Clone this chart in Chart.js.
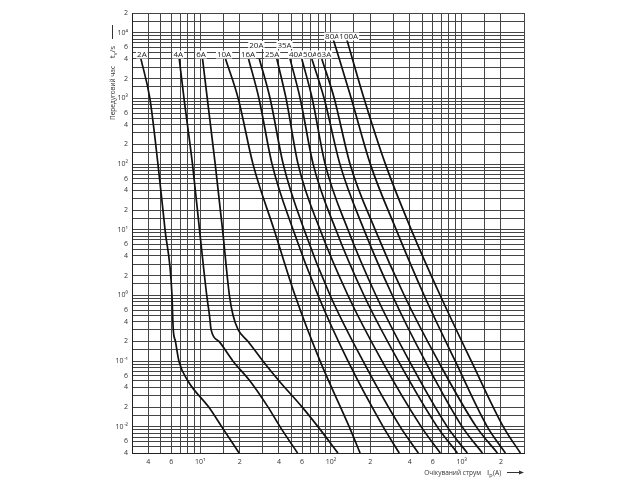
<!DOCTYPE html>
<html>
<head>
<meta charset="utf-8">
<script src="https://cdn.jsdelivr.net/npm/chart.js@4"></script>
<style>
  html, body { margin: 0; padding: 0; background: #fff; }
</style>
</head>
<body>
<canvas id="chart" width="640" height="480"></canvas>
<script>
// fuse ratings, one curve each
const ratings = ['2A', '4A', '6A', '10A', '16A', '20A', '25A', '35A', '40A', '50A', '63A', '80A', '100A'];

// pre-arcing time levels (s) the currents were read at
const timesSteep = [4000, 1000, 100, 10, 1, 0.5, 0.3, 0.2, 0.1, 0.05, 0.02, 0.01, 0.004];
const timesMain = [4000, 1000, 100, 10, 1, 0.1, 0.01, 0.004];
const timesTall = [8000, 1000, 100, 10, 1, 0.1, 0.01, 0.004];

// prospective current (A) at those times
const current2A = [3.51, 4.11, 4.74, 5.37, 6.07, 6.14, 6.21, 6.45, 6.86, 8.04, 11.6, 14.6, 19.8];
const current4A = [6.90, 7.50, 8.71, 9.86, 11.2, 11.75, 12.1, 13.9, 17.8, 24.0, 33.0, 40.8, 55.5];
const current6A = [10.4, 11.3, 13.0, 14.8, 16.7, 17.8, 19.5, 23.2, 30.2, 40.1, 60.2, 79.7, 113];
const current10A = [15.6, 19.5, 25.3, 36.7, 53.1, 82.6, 138, 167];
const current16A = [23.4, 28.1, 35.4, 51.3, 79.7, 135, 251, 333];
const current20A = [28.3, 34.2, 43.1, 62.3, 98.6, 176, 339, 466];
const current25A = [38.5, 45.3, 56.0, 82.6, 135, 246, 491, 686];
const current35A = [48.6, 58.1, 73.0, 109, 179, 328, 651, 927];
const current40A = [59.8, 71.8, 90.2, 135, 221, 398, 777, 1105];
const current50A = [71.4, 88.7, 117, 179, 295, 526, 1011, 1441];
const current63A = [85.1, 106, 140, 218, 364, 662, 1296, 1877];
const current80A = [104, 143, 200, 316, 517, 894, 1573, 2161];
const current100A = [132, 179, 261, 412, 686, 1186, 2086, 2816];

// tick labels
const yTickValues = [20000, 10000, 6000, 4000, 2000, 1000, 600, 400, 200, 100, 60, 40, 20, 10, 6, 4, 2, 1, 0.6, 0.4, 0.2, 0.1, 0.06, 0.04, 0.02, 0.01, 0.006, 0.004];
const yTickTexts = ['2', '10⁴', '6', '4', '2', '10³', '6', '4', '2', '10²', '6', '4', '2', '10¹', '6', '4', '2', '10⁰', '6', '4', '2', '10⁻¹', '6', '4', '2', '10⁻²', '6', '4'];
const xTickValues = [4, 6, 10, 20, 40, 60, 100, 200, 400, 600, 1000, 2000];
const xTickTexts = ['4', '6', '10¹', '2', '4', '6', '10²', '2', '4', '6', '10³', '2'];
const gridSteps = [1, 1.5, 2, 3, 4, 5, 6, 7, 8, 9];

const seriesCurrents = [current2A, current4A, current6A, current10A, current16A, current20A, current25A,
  current35A, current40A, current50A, current63A, current80A, current100A];
const seriesTimes = [timesSteep, timesSteep, timesSteep, timesMain, timesMain, timesMain, timesMain,
  timesMain, timesMain, timesMain, timesMain, timesTall, timesTall];

const FONT = '"Open Sans", "Liberation Sans", sans-serif';
const INK = '#333';

function gridTicks(min, max) {
  const out = [];
  for (let e = Math.floor(Math.log10(min)) - 1; e <= Math.ceil(Math.log10(max)); e++) {
    gridSteps.forEach(m => {
      const v = m * Math.pow(10, e);
      if (v >= min * 0.9999 && v <= max * 1.0001) out.push({ value: v });
    });
  }
  return out;
}

function labelFor(values, texts, value) {
  const i = values.findIndex(v => Math.abs(value / v - 1) < 1e-6);
  return i >= 0 ? texts[i] : '';
}

// label placement next to each curve's top end: row and horizontal nudge (px)
const labelRow = [1, 1, 1, 1, 1, 2, 1, 2, 1, 1, 1, 3, 3];
const labelNudge = [1, -1, -1.5, -1.5, -0.5, -3, -4.7, -5.5, -5.7, -1.7, 2.3, -1, 2];
const rowOffset = { 1: 41.5, 2: 32, 3: 23.5 };

const decor = {
  id: 'decor',
  afterDatasetsDraw(chart) {
    const { ctx, chartArea } = chart;
    ctx.save();
    ctx.font = '8px ' + FONT;
    ctx.textAlign = 'center';
    ctx.textBaseline = 'middle';
    chart.data.datasets.forEach((ds, i) => {
      const pt = chart.getDatasetMeta(i).data[0];
      const x = pt.x + labelNudge[i];
      const y = chartArea.top + rowOffset[labelRow[i]];
      const w = ctx.measureText(ds.label).width;
      ctx.fillStyle = '#fff';
      ctx.fillRect(x - w / 2 - 1, y - 4, w + 2, 8);
      ctx.fillStyle = '#222';
      ctx.fillText(ds.label, x, y + 0.5);
    });
    ctx.restore();
  },
  afterDraw(chart) {
    const { ctx } = chart;
    ctx.save();
    ctx.fillStyle = INK;
    ctx.strokeStyle = INK;

    // vertical axis title
    ctx.save();
    ctx.translate(113, 93);
    ctx.rotate(-Math.PI / 2);
    ctx.font = '6.5px ' + FONT;
    ctx.textAlign = 'center';
    ctx.textBaseline = 'middle';
    ctx.fillText('Передуговий час', 0, 0);
    ctx.restore();

    // t_v/s
    ctx.save();
    ctx.translate(113, 52);
    ctx.rotate(-Math.PI / 2);
    ctx.textBaseline = 'middle';
    ctx.font = '8px ' + FONT;
    const wT = ctx.measureText('t').width;
    const wS = ctx.measureText('/s').width;
    ctx.font = '5.5px ' + FONT;
    const wV = ctx.measureText('v').width;
    let cx = -(wT + wV + wS) / 2;
    ctx.font = '8px ' + FONT;
    ctx.fillText('t', cx, 0);
    cx += wT;
    ctx.font = '5.5px ' + FONT;
    ctx.fillText('v', cx, 2);
    cx += wV;
    ctx.font = '8px ' + FONT;
    ctx.fillText('/s', cx, 0);
    ctx.restore();

    // upward arrow
    ctx.lineWidth = 1;
    ctx.beginPath();
    ctx.moveTo(112.5, 39);
    ctx.lineTo(112.5, 25);
    ctx.stroke();

    // horizontal axis title
    ctx.font = '6.5px ' + FONT;
    ctx.textAlign = 'right';
    ctx.textBaseline = 'middle';
    ctx.fillText('Очікуваний струм', 481, 473);
    ctx.textAlign = 'left';
    ctx.font = '8px ' + FONT;
    ctx.fillText('I', 487, 473);
    const wI = ctx.measureText('I').width;
    ctx.font = '5.5px ' + FONT;
    ctx.fillText('p', 487 + wI, 475);
    const wp = ctx.measureText('p').width;
    ctx.font = '6.5px ' + FONT;
    ctx.fillText('(A)', 487 + wI + wp + 0.5, 473);

    // right arrow
    ctx.beginPath();
    ctx.moveTo(507, 472.5);
    ctx.lineTo(523, 472.5);
    ctx.stroke();
    ctx.beginPath();
    ctx.moveTo(524, 472.5);
    ctx.lineTo(519, 470.5);
    ctx.lineTo(519, 474.5);
    ctx.closePath();
    ctx.fill();
    ctx.restore();
  }
};

const datasets = ratings.map((name, i) => ({
  label: name,
  data: seriesCurrents[i].map((c, k) => ({ x: c, y: seriesTimes[i][k] })),
  showLine: true,
  borderColor: '#111',
  borderWidth: 1.7,
  pointRadius: 0,
  fill: false,
  cubicInterpolationMode: 'monotone'
}));

new Chart(document.getElementById('chart'), {
  type: 'scatter',
  data: { datasets },
  options: {
    responsive: false,
    animation: false,
    events: [],
    layout: { padding: { left: 92, top: 13, right: 116, bottom: 0 } },
    plugins: {
      legend: { display: false },
      tooltip: { enabled: false }
    },
    scales: {
      x: {
        type: 'logarithmic',
        min: 3,
        max: 3000,
        afterBuildTicks: scale => { scale.ticks = gridTicks(3, 3000); },
        afterFit: scale => { scale.height = 27; },
        grid: { color: '#444', lineWidth: 1, drawTicks: false },
        border: { color: '#222', width: 1 },
        ticks: {
          autoSkip: false,
          maxRotation: 0,
          padding: 5,
          color: INK,
          font: { family: FONT, size: 7 },
          callback: value => labelFor(xTickValues, xTickTexts, value)
        }
      },
      y: {
        type: 'logarithmic',
        min: 0.004,
        max: 20000,
        afterBuildTicks: scale => { scale.ticks = gridTicks(0.004, 20000); },
        afterFit: scale => { scale.width = 40; },
        grid: { color: '#444', lineWidth: 1, drawTicks: false },
        border: { color: '#222', width: 1 },
        ticks: {
          autoSkip: false,
          padding: 4,
          color: INK,
          font: { family: FONT, size: 7 },
          callback: value => labelFor(yTickValues, yTickTexts, value)
        }
      }
    }
  },
  plugins: [decor]
});
</script>
</body>
</html>
